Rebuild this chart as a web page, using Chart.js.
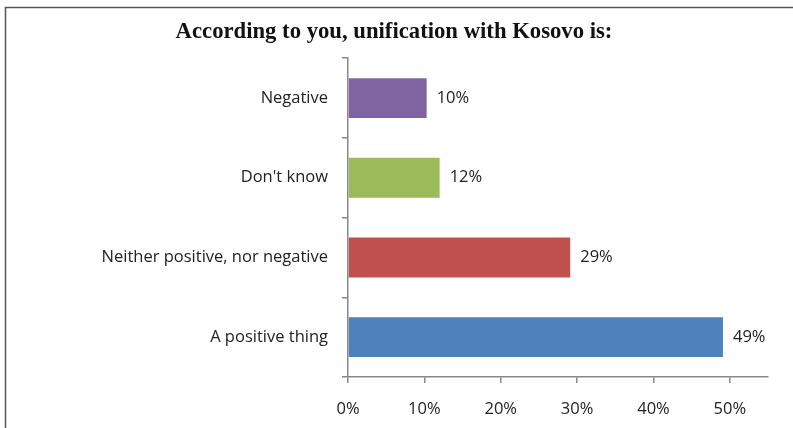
<!DOCTYPE html>
<html>
<head>
    <title>Unification with Kosovo</title>
    <script src="https://cdn.jsdelivr.net/npm/chart.js"></script>
    <style>
        body { margin: 0; background: #fff; }
        #wrap { position: relative; width: 793px; height: 428px; }
    </style>
</head>
<body>
    <div id="wrap"><canvas id="kosovoChart"></canvas></div>
<script>
// data
const categories = ['Negative', "Don't know", 'Neither positive, nor negative', 'A positive thing'];
const shares = [10.3, 12.0, 29.1, 49.1];
const barColors = ['#8064A2', '#9BBB59', '#C0504D', '#4F81BD'];
const xTicks = [0, 10, 20, 30, 40, 50];

// outer frame (left and top lines only, like the scan)
const framePlugin = {
    id: 'frame',
    beforeDraw(chart) {
        const c = chart.ctx;
        c.save();
        c.strokeStyle = '#555';
        c.lineWidth = 1.5;
        c.beginPath();
        c.moveTo(5.5, 428);
        c.lineTo(5.5, 7.5);
        c.lineTo(793, 7.5);
        c.stroke();
        c.restore();
    }
};

// value labels to the right of each bar
const valueLabels = {
    id: 'valueLabels',
    afterDatasetsDraw(chart) {
        const c = chart.ctx;
        const meta = chart.getDatasetMeta(0);
        c.save();
        c.font = '16.5px "Open Sans"';
        c.fillStyle = '#222';
        c.textBaseline = 'middle';
        meta.data.forEach((bar, i) => {
            c.fillText(Math.round(shares[i]) + '%', bar.x + 10, bar.y);
        });
        c.restore();
    }
};

new Chart(document.getElementById('kosovoChart'), {
    type: 'bar',
    data: {
        labels: categories,
        datasets: [{
            data: shares,
            backgroundColor: barColors,
            categoryPercentage: 1,
            barPercentage: 0.5
        }]
    },
    options: {
        indexAxis: 'y',
        responsive: true,
        maintainAspectRatio: false,
        animation: false,
        layout: { padding: { top: 13, right: 25, bottom: 0, left: 20 } },
        plugins: {
            legend: { display: false },
            tooltip: { enabled: false },
            title: {
                display: true,
                text: 'According to you, unification with Kosovo is:',
                color: '#111',
                font: { family: '"Liberation Serif"', size: 22.7, weight: 'bold' },
                padding: { top: 6, bottom: 12 }
            }
        },
        scales: {
            x: {
                min: 0,
                max: 55,
                afterBuildTicks(scale) {
                    scale.ticks = xTicks.map(v => ({ value: v }));
                },
                afterFit(scale) { scale.height = 51; },
                grid: { drawOnChartArea: false, tickLength: 6, color: '#888', lineWidth: 1.5 },
                border: { color: '#888', width: 1.5 },
                ticks: {
                    padding: 16,
                    color: '#222',
                    font: { family: '"Open Sans"', size: 16.5 },
                    callback: v => v + '%'
                }
            },
            y: {
                afterFit(scale) { scale.width = 328; },
                grid: { drawOnChartArea: false, tickLength: 6, color: '#888', lineWidth: 1.5 },
                border: { color: '#888', width: 1.5 },
                ticks: {
                    padding: 14,
                    color: '#222',
                    font: { family: '"Open Sans"', size: 16.5 }
                }
            }
        }
    },
    plugins: [framePlugin, valueLabels]
});
</script>
</body>
</html>
